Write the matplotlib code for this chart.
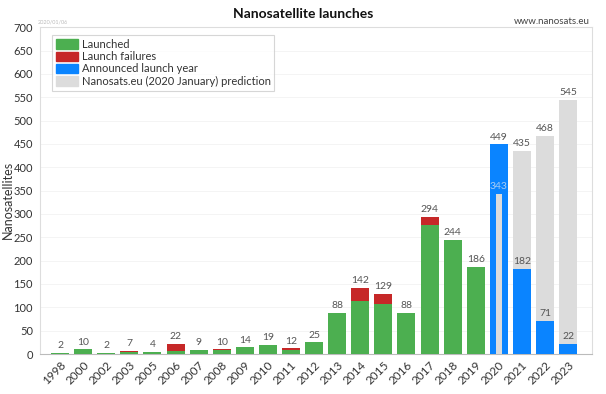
import matplotlib.pyplot as plt
import numpy as np

plt.rcParams['font.family'] = ['Lato', 'DejaVu Sans']

years = ['1998', '2000', '2002', '2003', '2005', '2006', '2007', '2008', '2009', '2010',
         '2011', '2012', '2013', '2014', '2015', '2016', '2017', '2018', '2019',
         '2020', '2021', '2022', '2023']
launched = [2, 10, 2, 5, 4, 6, 9, 8, 14, 19, 9, 25, 88, 113, 108, 88, 277, 244, 186, 0, 0, 0, 0]
failures = [0, 0, 0, 2, 0, 16, 0, 2, 0, 0, 3, 0, 0, 29, 21, 0, 17, 0, 0, 0, 0, 0, 0]
announced = [0] * 19 + [449, 182, 71, 22]
prediction = [0] * 19 + [343, 435, 468, 545]

green = '#4caf50'
red = '#c62828'
blue = '#0a84ff'
grey = '#dcdcdc'
txt = '#555555'

fig = plt.figure(figsize=(6.06, 3.94), dpi=100)
ax = fig.add_axes([0.066, 0.1015, 0.911, 0.8295])

x = np.arange(len(years))
w = 0.78
launched = np.array(launched)
failures = np.array(failures)
announced = np.array(announced)
prediction = np.array(prediction)

# prediction bars behind blue for 2021+, narrow in front of blue for 2020
pmask = x >= 20
ax.bar(x[pmask], prediction[pmask], w, color=grey, zorder=2)
ax.bar(x, announced, w, color=blue, zorder=3)
ax.bar(x[19], prediction[19], 0.25, color=grey, zorder=4)
ax.bar(x, launched, w, color=green, zorder=3)
ax.bar(x, failures, w, bottom=launched, color=red, zorder=3)

# value labels
for i in range(len(years)):
    if i < 19:
        v = launched[i] + failures[i]
        ax.text(x[i], v + 6, str(v), ha='center', va='bottom', fontsize=7.5, color=txt)
    else:
        ax.text(x[i], announced[i] + 6, str(announced[i]), ha='center', va='bottom',
                fontsize=7.5, color=txt, zorder=5)
        if i == 19:
            ax.text(x[i], prediction[i] + 6, str(prediction[i]), ha='center', va='bottom',
                    fontsize=7.5, color='#a8cdf5', zorder=5)
        else:
            ax.text(x[i], prediction[i] + 6, str(prediction[i]), ha='center', va='bottom',
                    fontsize=7.5, color=txt, zorder=5)

ax.set_xlim(-0.87, 23.04)
ax.set_ylim(0, 700)
ax.set_yticks(range(0, 701, 50))
ax.set_xticks(x)
ax.set_xticklabels(years, rotation=45, ha='right', rotation_mode='anchor', fontsize=8.5, color='#333333')
ax.tick_params(axis='y', labelsize=8, colors='#333333', length=0, pad=5)
ax.tick_params(axis='x', length=0, pad=4)
ax.grid(axis='y', color='#f2f2f2', linewidth=0.6, zorder=0)
ax.set_axisbelow(True)
for s in ax.spines.values():
    s.set_color('#dddddd')
    s.set_linewidth(0.8)
ax.spines['bottom'].set_color('#bbbbbb')

ax.set_ylabel('Nanosatellites', fontsize=9, color='#333333')
ax.yaxis.set_label_coords(-0.048, 0.47)

handles = [plt.Rectangle((0, 0), 1, 1, color=c) for c in (green, red, blue, grey)]
leg = ax.legend(handles, ['Launched', 'Launch failures', 'Announced launch year',
                          'Nanosats.eu (2020 January) prediction'],
                loc='upper left', bbox_to_anchor=(0.02, 0.98), fontsize=8,
                frameon=True, fancybox=False, edgecolor='#cccccc', handlelength=2.0,
                handleheight=0.9, handletextpad=0.3, labelspacing=0.12, borderpad=0.35,
                borderaxespad=0.1)
leg.get_frame().set_linewidth(0.8)
for t in leg.get_texts():
    t.set_color('#333333')

fig.text(0.5, 0.965, 'Nanosatellite launches', ha='center', va='center',
         fontsize=10, fontweight='bold', color='#111111')
fig.text(0.974, 0.945, 'www.nanosats.eu', ha='right', va='center', fontsize=7, color='#444444')
fig.text(0.063, 0.945, '2020/01/06', ha='left', va='center', fontsize=4, color='#bbbbbb')

fig.savefig('out.png', dpi=100)
